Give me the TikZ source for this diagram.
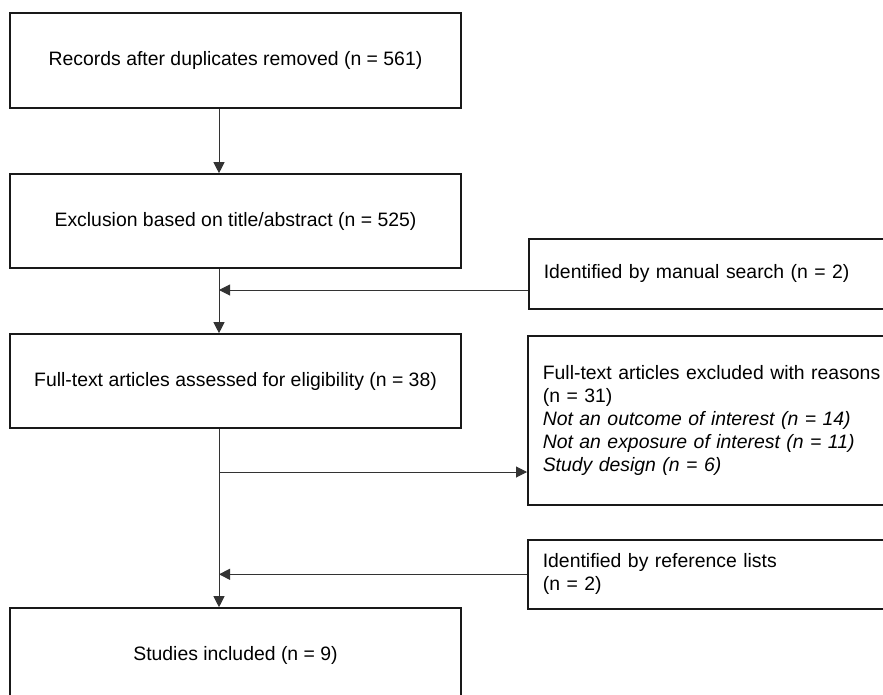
\documentclass[tikz,border=0pt]{standalone}
\usepackage{fontspec}
\setmainfont{Liberation Sans}
\usetikzlibrary{arrows.meta}
\begin{document}
\begin{tikzpicture}[x=1pt,y=-1pt,
  box/.style={draw=black!90, line width=1.6pt, font=\fontsize{19.4}{23}\selectfont, inner sep=0pt, align=center},
  sidebox/.style={box, anchor=north west, inner xsep=15pt, text width=380pt, align=left},
  arr/.style={draw=black!80, line width=1pt, -{Triangle[length=11pt,width=11pt]}}]
\useasboundingbox (0,0) rectangle (883,695);
\node[box, minimum width=451pt, minimum height=95pt] (rec) at (235.5,60.5) {Records after duplicates removed (n = 561)};
\node[box, minimum width=451pt, minimum height=94pt] (excl) at (235.5,221) {Exclusion based on title/abstract (n = 525)};
\node[box, minimum width=451pt, minimum height=94pt] (full) at (235.5,381) {Full-text articles assessed for eligibility (n = 38)};
\node[box, minimum width=451pt, minimum height=95pt] (inc) at (235.5,655.5) {Studies included (n = 9)};
\node[sidebox, minimum height=70pt] (man) at (528,238) {Identified by manual search (n = 2)};
\node[sidebox, minimum height=169pt] (exc) at (527,335) {Full-text articles excluded with reasons\\(n = 31)\\\textit{Not an outcome of interest (n = 14)}\\\textit{Not an exposure of interest (n = 11)}\\\textit{Study design (n = 6)}};
\node[sidebox, minimum height=69pt] (ref) at (527,539) {Identified by reference lists\\(n = 2)};
\coordinate (axis) at (219,0);
\draw[arr] (rec.south -| axis) -- (excl.north -| axis);
\draw[arr] (excl.south -| axis) -- (full.north -| axis);
\draw[arr] (full.south -| axis) -- (inc.north -| axis);
\coordinate (mA) at (528,290);
\draw[arr] (mA) -- (mA -| axis);
\coordinate (eA) at (219,472);
\draw[arr] (eA) -- (eA -| exc.west);
\draw[arr] (ref.west) -- (ref.west -| axis);
\end{tikzpicture}
\end{document}
